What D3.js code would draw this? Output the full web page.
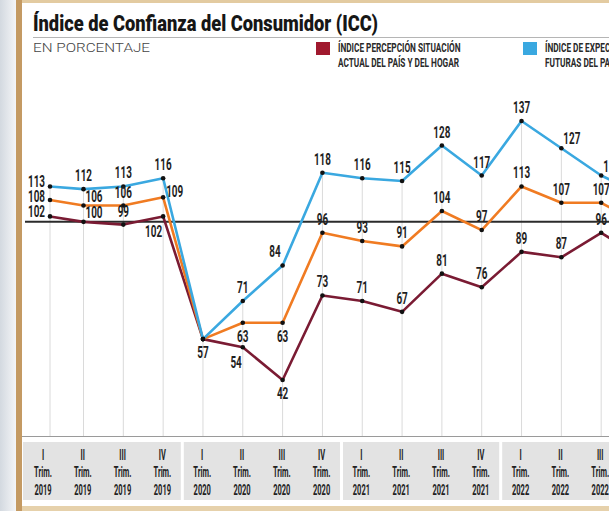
<!DOCTYPE html>
<html><head><meta charset="utf-8">
<script src="https://cdn.jsdelivr.net/npm/d3@7/dist/d3.min.js"></script>
<style>body{margin:0;background:#fff;overflow:hidden}svg{display:block}</style>
</head><body><svg id="c" width="609" height="511"></svg>
<script>
// ---- data ----
const quarterLabels = ["I","II","III","IV","I","II","III","IV","I","II","III","IV","I","II","III","IV"];
const yearLabels = ["2019","2019","2019","2019","2020","2020","2020","2020","2021","2021","2021","2021","2022","2022","2022","2022"];
const years = ["2019","2020","2021","2022"];
const actualValues = [102,100,99,102,57,54,42,73,71,67,81,76,89,87,96,87];
const expectValues = [113,112,113,116,57,71,84,118,116,115,128,117,137,127,117,110];
const iccValues = [108,106,106,109,57,63,63,96,93,91,104,97,113,107,107,99];
const referenceValue = 100;
// label placement codes (a=above, l=left, lu=left-up, r=right, ar=above-right, b=below, bl=below-left, n=none)
const actualPlace = ["lu","ar","a","bl","b","bl","b","a","a","a","a","a","a","a","a","a"];
const expectPlace = ["lu","a","a","a","n","a","al","a","a","a","a","a","a","ar","ar","a"];
const iccPlace    = ["l","ar","a","r","n","b","b","a","a","a","a","a","a","a","a","a"];

const svg = d3.select("#c");
const W = 609, H = 511;
const FONT = "Roboto, 'Liberation Sans', Arial, sans-serif";

// frame
const g0 = svg.append("defs").append("linearGradient").attr("id","lg").attr("x1","0").attr("x2","1");
g0.append("stop").attr("offset","0").attr("stop-color","#d3d9e0");
g0.append("stop").attr("offset","1").attr("stop-color","#f4f5f7");
svg.append("rect").attr("x",0).attr("y",0).attr("width",16).attr("height",H).attr("fill","url(#lg)");
svg.append("rect").attr("x",16).attr("y",0).attr("width",6).attr("height",H).attr("fill","#c49a63");
svg.append("rect").attr("x",22).attr("y",0).attr("width",W-22).attr("height",3).attr("fill","#e3cba1");
svg.append("rect").attr("x",22).attr("y",506).attr("width",W-22).attr("height",5).attr("fill","#e6d1ab");

// title
svg.append("text").attr("x",33).attr("y",31).attr("font-family",FONT).attr("font-weight",900)
  .attr("font-size",22).attr("fill","#161616").attr("textLength",345).attr("lengthAdjust","spacingAndGlyphs")
  .text("Índice de Confianza del Consumidor (ICC)");
svg.append("line").attr("x1",33).attr("x2",W).attr("y1",37.5).attr("y2",37.5).attr("stroke","#b5b5b5");
svg.append("text").attr("x",33).attr("y",52).attr("font-family",FONT).attr("font-weight",300)
  .attr("font-size",13).attr("fill","#444").attr("textLength",117).attr("lengthAdjust","spacingAndGlyphs")
  .text("EN PORCENTAJE");

// legend
const legend = [
  {x:316, color:"#a0192e", lines:["ÍNDICE PERCEPCIÓN SITUACIÓN","ACTUAL DEL PAÍS Y DEL HOGAR"]},
  {x:523, color:"#3aa8e0", lines:["ÍNDICE DE EXPECTATIVAS","FUTURAS DEL PAÍS Y DEL HOGAR"]}
];
legend.forEach(l => {
  svg.append("rect").attr("x",l.x).attr("y",42).attr("width",14).attr("height",13).attr("fill",l.color);
  l.lines.forEach((t,i) => {
    svg.append("text").attr("transform",`translate(${l.x+22},${52+i*15}) scale(0.66,1)`)
      .attr("font-family",FONT).attr("font-weight",700).attr("font-size",12.5).attr("fill","#2a2a2a").text(t);
  });
});

// scales
const x = d3.scaleLinear().domain([0,1,15]).range([50,83.5,641]);
const xl = d3.scalePoint().domain(d3.range(quarterLabels.length)).range([43, 640]);
const y = d3.scaleLinear().domain([42,137]).range([380,121]);
const baseY = 436;

// year bands & axis labels
years.forEach((yr, k) => {
  const i0 = k*4, i1 = k*4+3;
  const left = k === 0 ? 23 : (xl(i0-1)+xl(i0))/2 + 1.5;
  const right = xl(i1) + xl.step()/2 - 1.5;
  svg.append("rect").attr("x",left).attr("y",442).attr("width",right-left).attr("height",58).attr("fill","#e3e3e3");
});
quarterLabels.forEach((q,i) => {
  [q, "Trim.", yearLabels[i]].forEach((t,r) => {
    svg.append("text").attr("transform",`translate(${xl(i)},${[460,477,495][r]}) scale(0.5,1)`)
      .attr("text-anchor","middle").attr("font-family",FONT).attr("font-weight",700)
      .attr("font-size",15).attr("fill","#222").text(t);
  });
});

// vertical grid
quarterLabels.forEach((q,i) => {
  const top = y(Math.max(actualValues[i], expectValues[i], iccValues[i]));
  svg.append("line").attr("x1",x(i)).attr("x2",x(i)).attr("y1",top).attr("y2",baseY)
    .attr("stroke","#dadada").attr("stroke-width",1);
});
svg.append("line").attr("x1",22).attr("x2",W).attr("y1",baseY+0.5).attr("y2",baseY+0.5).attr("stroke","#9a9a9a").attr("stroke-width",1);

// reference line
svg.append("line").attr("x1",25).attr("x2",W).attr("y1",y(referenceValue)).attr("y2",y(referenceValue))
  .attr("stroke","#2b2b2b").attr("stroke-width",2);

// series
const series = [
  {vals: actualValues, color:"#7a1b33", place: actualPlace},
  {vals: iccValues, color:"#f07b22", place: iccPlace},
  {vals: expectValues, color:"#3aa8e0", place: expectPlace}
];
const line = d3.line().x((d,i)=>x(i)).y(d=>y(d));
series.forEach(s => {
  svg.append("path").datum(s.vals).attr("d",line).attr("fill","none")
    .attr("stroke",s.color).attr("stroke-width",2.6).attr("stroke-linejoin","round");
});
series.forEach(s => {
  s.vals.forEach((v,i) => {
    svg.append("circle").attr("cx",x(i)).attr("cy",y(v)).attr("r",2.3).attr("fill","#111");
  });
});
const off = {
  a:[0,-8,"middle"], l:[-5,2,"end"], lu:[-5,1,"end"], r:[3,0,"start"], ar:[2,-4,"start"],
  b:[0,19,"middle"], bl:[-1,21,"end"], al:[-2,-8,"end"]
};
series.forEach(s => {
  s.vals.forEach((v,i) => {
    const p = s.place[i]; if (p === "n") return;
    const o = off[p];
    svg.append("text").attr("transform",`translate(${x(i)+o[0]},${y(v)+o[1]}) scale(0.62,1)`)
      .attr("text-anchor",o[2]).attr("font-family",FONT).attr("font-weight",700)
      .attr("font-size",16).attr("fill","#1e1e1e").text(v);
  });
});
</script></body></html>
